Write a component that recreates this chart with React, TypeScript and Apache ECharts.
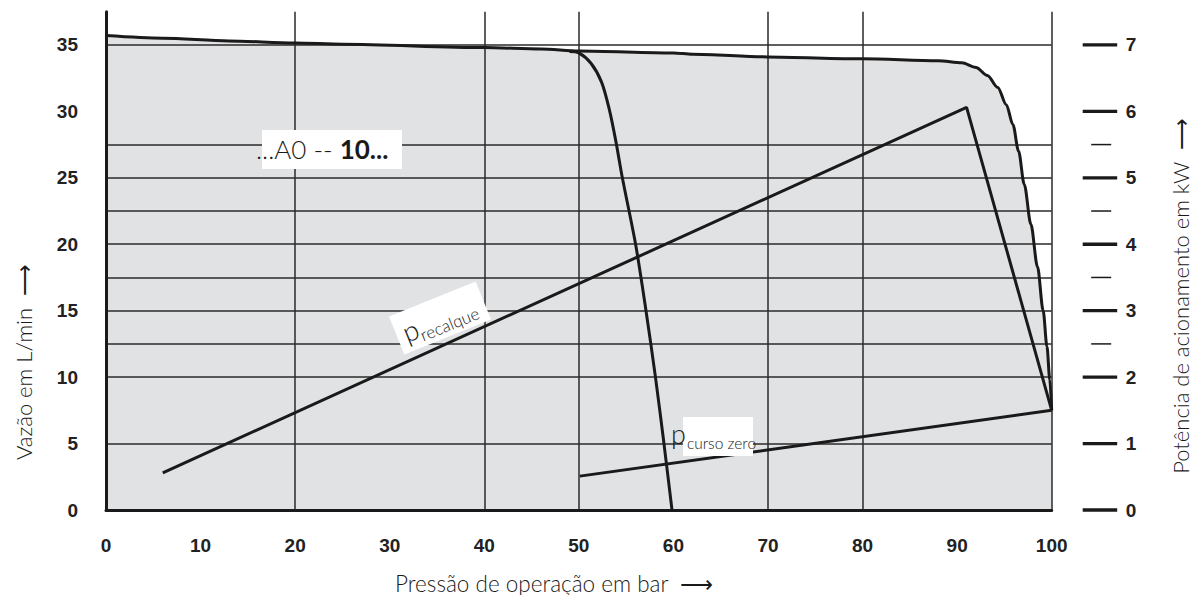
import React, { useEffect, useRef } from "react";
import * as echarts from "echarts";

// Outer flow curve (max pressure setting ~100 bar)
const outerPressure = [0, 6, 13, 20, 25, 40, 46, 50, 60, 62, 70, 80, 88, 90.5, 92, 93.2, 94.3, 95.2, 95.9, 96.5, 97.1, 97.8, 98.5, 99.1, 99.5, 99.8, 100];
const outerFlow = [35.7, 35.5, 35.3, 35.15, 35.05, 34.8, 34.7, 34.55, 34.4, 34.3, 34.1, 33.95, 33.8, 33.65, 33.3, 32.7, 31.8, 30.5, 29.0, 27.0, 24.5, 21.5, 18.3, 15.0, 12.3, 9.8, 7.5];

// Inner flow curve (pressure setting ~60 bar)
const innerPressure = [49, 50, 51.3, 52.4, 53.2, 53.9, 54.6, 56.0, 57.1, 58.1, 59.0, 59.85];
const innerFlow = [34.5, 34.4, 33.6, 32.2, 30.2, 27.8, 25.0, 20.0, 15.0, 10.0, 5.0, 0];

// Drive power curves (kW)
const recalquePressure = [6.0, 91.0, 100];
const recalquePower = [0.56, 6.06, 1.5];
const cursoZeroPressure = [50.1, 100];
const cursoZeroPower = [0.51, 1.5];

// Grid lines and ticks
const flowGridLevels = [5, 10, 12.5, 15, 17.5, 20, 22.5, 25, 27.5, 35];
const pressureGridLines = [20, 40, 50, 70, 80, 100];
const powerMajorTicks = [0, 1, 2, 3, 4, 5, 6, 7];
const powerMinorTicks = [2.5, 3.5, 4.5, 5.5];

const zip = (xs: number[], ys: number[]) => xs.map((x, i) => [x, ys[i]]);

const TICK_FONT = "'Liberation Sans', Arial, sans-serif";
const TITLE_FONT = "Lato, 'Open Sans', 'Noto Sans', sans-serif";
const INK = "#1a1a1a";

export default function App() {
  const ref = useRef<HTMLDivElement>(null);

  useEffect(() => {
    if (!ref.current) return;
    const chart = echarts.init(ref.current, undefined, { renderer: "svg" });
    const option: any = {
      animation: false,
      backgroundColor: "#ffffff",
      grid: { left: 106, right: 141.3, top: 11.7, bottom: 85, containLabel: false },
      xAxis: {
        type: "value",
        min: 0,
        max: 100,
        interval: 10,
        z: 10,
        axisLine: { show: true, onZero: false, lineStyle: { color: INK, width: 3 } },
        axisTick: { show: false },
        splitLine: { show: false },
        axisLabel: { margin: 26, color: "#222", fontFamily: TICK_FONT, fontWeight: "bold", fontSize: 19 },
      },
      yAxis: [
        {
          type: "value",
          min: 0,
          max: 37.5,
          interval: 5,
          z: 10,
          axisLine: { show: true, onZero: false, lineStyle: { color: INK, width: 3 } },
          axisTick: { show: false },
          splitLine: { show: false },
          axisLabel: { margin: 28, showMaxLabel: false, color: "#222", fontFamily: TICK_FONT, fontWeight: "bold", fontSize: 19 },
        },
        {
          type: "value",
          position: "right",
          offset: 31,
          min: 0,
          max: 7.5,
          interval: 1,
          z: 10,
          axisLine: { show: false },
          axisTick: { show: false },
          splitLine: { show: false },
          axisLabel: { margin: 43, showMaxLabel: false, color: "#222", fontFamily: TICK_FONT, fontWeight: "bold", fontSize: 19 },
        },
      ],
      series: [
        {
          name: "area",
          type: "line",
          z: 1,
          silent: true,
          symbol: "none",
          smooth: 0.3,
          smoothMonotone: "x",
          data: zip(outerPressure, outerFlow),
          lineStyle: { width: 0, opacity: 0 },
          areaStyle: { color: "#e1e2e4", opacity: 1 },
          markLine: {
            z: 2,
            silent: true,
            animation: false,
            symbol: ["none", "none"],
            label: { show: false },
            lineStyle: { color: "#2a2a2a", width: 1.5, type: "solid" },
            emphasis: { disabled: true },
            data: [
              ...flowGridLevels.map((v) => ({ yAxis: v })),
              ...pressureGridLines.map((v) => ({ xAxis: v })),
            ],
          },
        },
        {
          name: "outer",
          type: "line",
          z: 5,
          silent: true,
          symbol: "none",
          smooth: 0.3,
          smoothMonotone: "x",
          data: zip(outerPressure, outerFlow),
          lineStyle: { color: INK, width: 3 },
        },
        {
          name: "inner",
          type: "line",
          z: 5,
          silent: true,
          symbol: "none",
          smooth: 0.3,
          data: zip(innerPressure, innerFlow),
          lineStyle: { color: INK, width: 3 },
        },
        {
          name: "p recalque",
          type: "line",
          yAxisIndex: 1,
          z: 5,
          silent: true,
          symbol: "none",
          data: zip(recalquePressure, recalquePower),
          lineStyle: { color: INK, width: 3 },
        },
        {
          name: "p curso zero",
          type: "line",
          yAxisIndex: 1,
          z: 5,
          silent: true,
          symbol: "none",
          data: zip(cursoZeroPressure, cursoZeroPower),
          lineStyle: { color: INK, width: 3 },
        },
        {
          name: "powerTicks",
          type: "custom",
          yAxisIndex: 1,
          z: 6,
          silent: true,
          clip: false,
          encode: { x: 0, y: 1 },
          data: [
            ...powerMajorTicks.map((v) => [100, v, 1]),
            ...powerMinorTicks.map((v) => [100, v, 0]),
          ],
          renderItem: (params: any, api: any) => {
            const p = api.coord([api.value(0), api.value(1)]);
            const major = api.value(2) === 1;
            return {
              type: "line",
              shape: {
                x1: p[0] + (major ? 31 : 39.5),
                y1: p[1],
                x2: p[0] + (major ? 65.5 : 59.5),
                y2: p[1],
              },
              style: { stroke: INK, lineWidth: major ? 3.3 : 1.5 },
            };
          },
        },
      ],
      graphic: [
        { type: "rect", z: 100, shape: { x: 262, y: 130, width: 140, height: 39 }, style: { fill: "#fff" } },
        {
          type: "text",
          z: 101,
          x: 256,
          y: 149,
          style: {
            text: "{a|...A0 -- }{b|10...}",
            verticalAlign: "middle",
            textVerticalAlign: "middle",
            rich: {
              a: { fontFamily: TITLE_FONT, fontWeight: 300, fontSize: 26, fill: INK, color: INK },
              b: { fontFamily: TITLE_FONT, fontWeight: "bold", fontSize: 26, fill: INK, color: INK },
            },
          },
        },
        {
          type: "text",
          z: 101,
          x: 440,
          y: 318,
          rotation: 0.384,
          style: {
            text: "{p|p}{s|recalque}",
            align: "center",
            verticalAlign: "middle",
            textAlign: "center",
            textVerticalAlign: "middle",
            backgroundColor: "#fff",
            padding: [3, 9, 3, 7],
            rich: {
              p: { fontFamily: TITLE_FONT, fontWeight: 300, fontSize: 28, fill: INK, color: INK },
              s: { fontFamily: TITLE_FONT, fontWeight: 300, fontSize: 17, fill: INK, color: INK, padding: [18, 0, 0, 0] },
            },
          },
        },
        { type: "rect", z: 100, shape: { x: 683, y: 417, width: 70, height: 39 }, style: { fill: "#fff" } },
        {
          type: "text",
          z: 101,
          x: 671,
          y: 433,
          style: {
            text: "{p|p}{s|curso zero}",
            verticalAlign: "middle",
            textVerticalAlign: "middle",
            rich: {
              p: { fontFamily: TITLE_FONT, fontWeight: 300, fontSize: 27, fill: INK, color: INK },
              s: { fontFamily: TITLE_FONT, fontWeight: 300, fontSize: 15.5, fill: INK, color: INK, padding: [20, 0, 0, 1] },
            },
          },
        },
        {
          type: "text",
          z: 101,
          x: 395,
          y: 583,
          style: {
            text: "Pressão de operação em bar  \u27F6",
            verticalAlign: "middle",
            textVerticalAlign: "middle",
            fontFamily: TITLE_FONT,
            fontWeight: 300,
            fontSize: 22.5,
            fill: INK,
          },
        },
        {
          type: "text",
          z: 101,
          x: 23,
          y: 362,
          rotation: Math.PI / 2,
          style: {
            text: "Vazão em L/min  \u27F6",
            align: "center",
            verticalAlign: "middle",
            textAlign: "center",
            textVerticalAlign: "middle",
            fontFamily: TITLE_FONT,
            fontWeight: 300,
            fontSize: 22,
            fill: INK,
          },
        },
        {
          type: "text",
          z: 101,
          x: 1180,
          y: 296,
          rotation: Math.PI / 2,
          style: {
            text: "Potência de acionamento em kW  \u27F6",
            align: "center",
            verticalAlign: "middle",
            textAlign: "center",
            textVerticalAlign: "middle",
            fontFamily: TITLE_FONT,
            fontWeight: 300,
            fontSize: 22,
            fill: INK,
          },
        },
      ],
    };
    chart.setOption(option);
    return () => chart.dispose();
  }, []);

  return (
    <div
      ref={ref}
      style={{ position: "absolute", left: 0, top: 0, width: 1193, height: 595 }}
    />
  );
}
